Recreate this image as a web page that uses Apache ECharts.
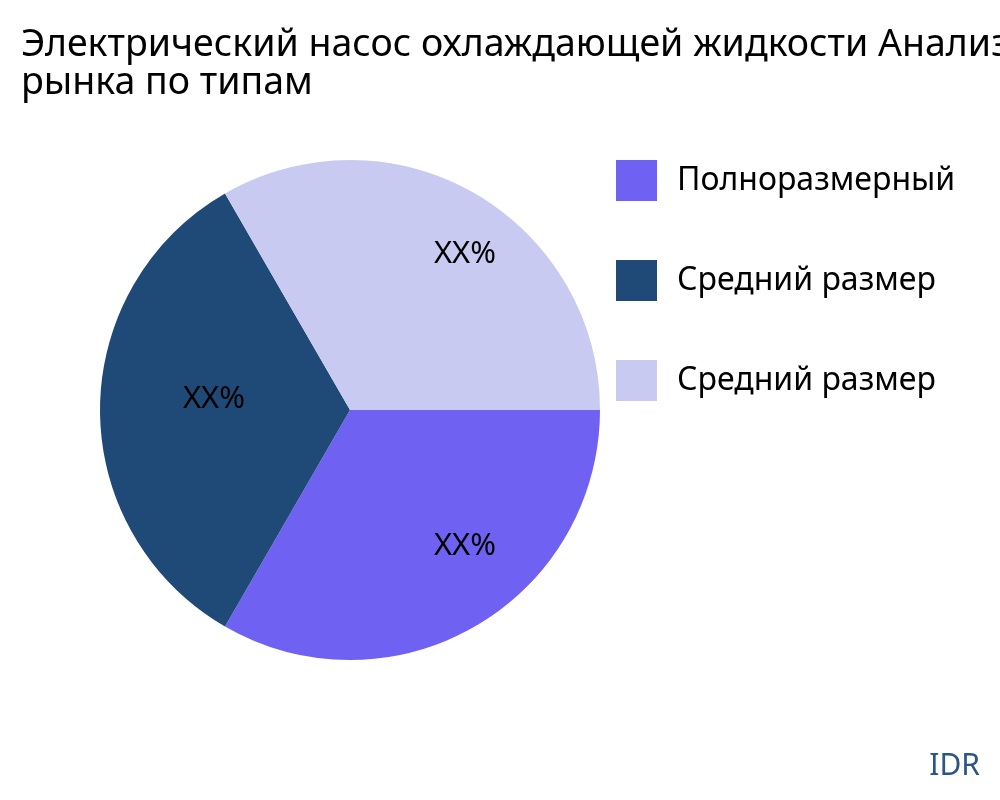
<!DOCTYPE html>
<html>
<head>
<meta charset="utf-8">
<script src="https://cdn.jsdelivr.net/npm/echarts@6/dist/echarts.min.js"></script>
<style>
html, body { margin: 0; padding: 0; background: #fff; }
#chart { width: 1000px; height: 800px; }
</style>
</head>
<body>
<div id="chart"></div>
<script>
var titleText = "Электрический насос охлаждающей жидкости Анализ\nрынка по типам";
// trailing space keeps the two "Средний размер" entries apart in the legend
var sliceNames = ["Полноразмерный", "Средний размер", "Средний размер "];
var sliceValues = [1, 1, 1];
var sliceLabels = ["XX%", "XX%", "XX%"];
var sliceColors = ["#6f62f2", "#1f4a78", "#c8caf1"];
var labelShift = [[51, 25], [-8, -11], [51, -45]];

var chart = echarts.init(document.getElementById("chart"));

var pieData = sliceNames.map(function (name, i) {
    return {
        name: name,
        value: sliceValues[i],
        itemStyle: { color: sliceColors[i] },
        label: { formatter: sliceLabels[i], offset: labelShift[i] }
    };
});

chart.setOption({
    animation: false,
    title: {
        text: titleText,
        left: 21,
        top: 26,
        padding: 0,
        textStyle: {
            fontFamily: "Noto Sans",
            fontSize: 37.5,
            fontWeight: "normal",
            color: "#000",
            lineHeight: 38
        }
    },
    legend: {
        orient: "vertical",
        left: 616,
        top: 160,
        padding: 0,
        itemWidth: 41,
        itemHeight: 41,
        itemGap: 59,
        icon: "rect",
        data: sliceNames,
        textStyle: {
            fontFamily: "Noto Sans",
            fontSize: 32,
            lineHeight: 41,
            color: "#000",
            padding: [0, 0, 0, 15]
        }
    },
    graphic: [{
        type: "text",
        right: 20,
        top: 751,
        style: {
            text: "IDR",
            font: "30px 'Noto Sans'",
            fill: "#2b5683"
        }
    }],
    series: [{
        type: "pie",
        center: [350, 410],
        radius: [0, 250],
        startAngle: 0,
        clockwise: true,
        label: {
            position: "inside",
            fontFamily: "Noto Sans",
            fontSize: 31,
            color: "#000"
        },
        labelLine: { show: false },
        emphasis: { disabled: true },
        data: pieData
    }]
});
</script>
</body>
</html>
